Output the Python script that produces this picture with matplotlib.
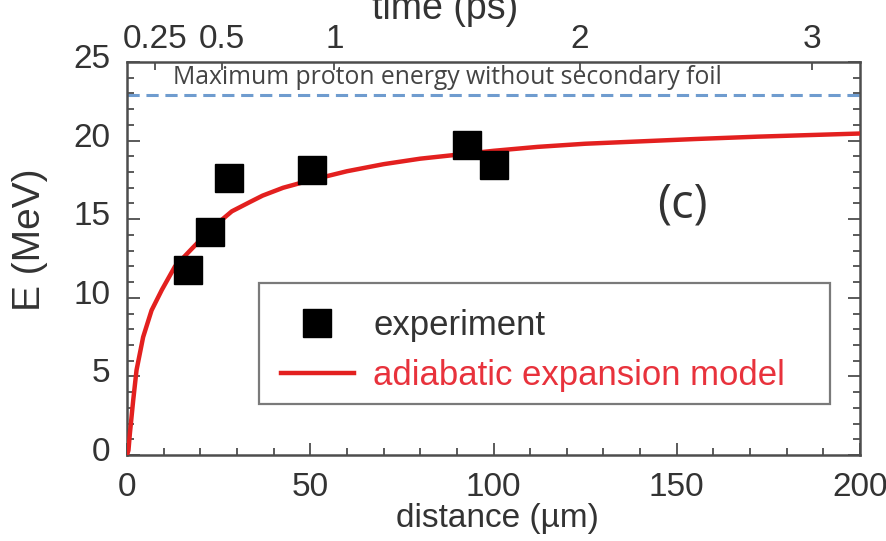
import matplotlib
matplotlib.use("Agg")
import matplotlib.pyplot as plt
from matplotlib.patches import Rectangle
from matplotlib.ticker import MultipleLocator
from matplotlib.transforms import ScaledTranslation

# Measured proton cut-off energies
exp_distance = [16.6, 22.6, 27.9, 50.4, 92.7, 100.2]   # µm
exp_energy = [11.8, 14.2, 17.6, 18.1, 19.7, 18.45]     # MeV

# Adiabatic expansion model curve
model_distance = [0, 0.4, 0.8, 1.7, 2.6, 4.4, 6.7, 9.5, 13.1, 17.6, 23, 28.6,
                  33.6, 37, 42.6, 50.4, 60, 70, 80, 90, 100, 112, 125, 140,
                  155, 172, 186, 200]
model_energy = [0, 0.3, 1.4, 3.5, 5.4, 7.5, 9.2, 10.5, 12.0, 13.1, 14.4, 15.5,
                16.1, 16.5, 17.0, 17.5, 18.05, 18.5, 18.85, 19.1, 19.35, 19.6,
                19.8, 19.95, 20.1, 20.25, 20.35, 20.45]

# Reference level without the secondary foil
max_energy_no_foil = 22.9

# Upper axis: flight time in ps at the corresponding distances
time_tick_distance = [7.7, 26, 56.6, 123.5, 187]
time_tick_labels = ["0.25", "0.5", "1", "2", "3"]

x_ticks = [0, 50, 100, 150, 200]
y_ticks = [0, 5, 10, 15, 20, 25]

W, H = 886, 541
fig = plt.figure(figsize=(W / 100, H / 100), dpi=100)
fig.patch.set_facecolor("white")

# axes box in pixels (left, top, right, bottom)
L, T, R, B = 127, 62, 860, 455
ax = fig.add_axes([L / W, (H - B) / H, (R - L) / W, (B - T) / H])

font = "Liberation Sans"
frame_col = "#4d4d4d"
text_col = "#333333"
red = "#e3201f"

ax.set_xlim(0, 200)
ax.set_ylim(0, 25)

ax.axhline(max_energy_no_foil, color="#6f9ccf", lw=2.2, ls=(0, (4, 2.2)), zorder=2)
ax.text(12.6, 24.0, "Maximum proton energy without secondary foil",
        fontsize=17.8, family="Open Sans", color="#444444", va="center", ha="left")

ax.plot(model_distance, model_energy, color=red, lw=3.2, zorder=3,
        label="adiabatic expansion model")
ax.plot(exp_distance, exp_energy, ls="none", marker="s", ms=19.5, color="black",
        zorder=4, label="experiment")

ax.text(151.5, 15.9, "(c)", fontsize=34, family="Open Sans", color=text_col,
        ha="center", va="center")

# ticks
ax.set_xticks(x_ticks)
ax.set_yticks(y_ticks)
ax.xaxis.set_minor_locator(MultipleLocator(10))
ax.yaxis.set_minor_locator(MultipleLocator(1))
ax.tick_params(which="both", direction="in", color=frame_col, width=1.3,
               left=True, right=True, bottom=True, top=False)
ax.tick_params(which="major", length=9)
ax.tick_params(which="minor", length=5)
ax.tick_params(axis="x", which="major", pad=12, labelsize=24, labelcolor=text_col)
ax.tick_params(axis="y", which="major", pad=12, labelsize=24, labelcolor=text_col)
lift = ScaledTranslation(0, 6 / 100, fig.dpi_scale_trans)
for lab in ax.get_xticklabels():
    lab.set_family(font)
for lab in ax.get_yticklabels():
    lab.set_family(font)
    lab.set_transform(lab.get_transform() + lift)
for sp in ax.spines.values():
    sp.set_color(frame_col)
    sp.set_linewidth(1.8)

ax_top = ax.twiny()
ax_top.set_xlim(ax.get_xlim())
ax_top.set_xticks(time_tick_distance)
ax_top.set_xticklabels(time_tick_labels, family=font, fontsize=24, color=text_col)
ax_top.tick_params(axis="x", direction="in", length=6, width=1.3, color=frame_col, pad=5)
for sp in ax_top.spines.values():
    sp.set_visible(False)

fig.text(497 / W, 1 - 519 / H, "distance (µm)", family=font, fontsize=24,
         color=text_col, ha="center", va="center")
fig.text(30 / W, 1 - 240 / H, "E (MeV)", family=font, fontsize=28,
         color=text_col, ha="center", va="center", rotation=90)
fig.text(445 / W, 1 - 19 / H, "time (ps)", family=font, fontsize=27, color=text_col,
         ha="center", va="baseline")

# legend frame and entries
bx0, by0, bx1, by1 = 259, 283, 830, 404
ax.add_patch(Rectangle(((bx0 - L) / (R - L), (B - by1) / (B - T)),
                       (bx1 - bx0) / (R - L), (by1 - by0) / (B - T),
                       transform=ax.transAxes, facecolor="white",
                       edgecolor="#7a7a7a", lw=1.6, zorder=5))
handles, labels = ax.get_legend_handles_labels()
leg = ax.legend(handles[::-1], labels[::-1], loc="upper left",
                bbox_to_anchor=((281 - L) / (R - L), (B - 309) / (B - T)),
                frameon=False, borderpad=0, borderaxespad=0,
                handlelength=2.1, handletextpad=0.55, labelspacing=0.5,
                prop={"family": font, "size": 25}, markerscale=1.0)
leg.set_zorder(6)
leg.get_texts()[0].set_color(text_col)
leg.get_texts()[1].set_color("#e8323c")

fig.savefig("out.png", dpi=100)
